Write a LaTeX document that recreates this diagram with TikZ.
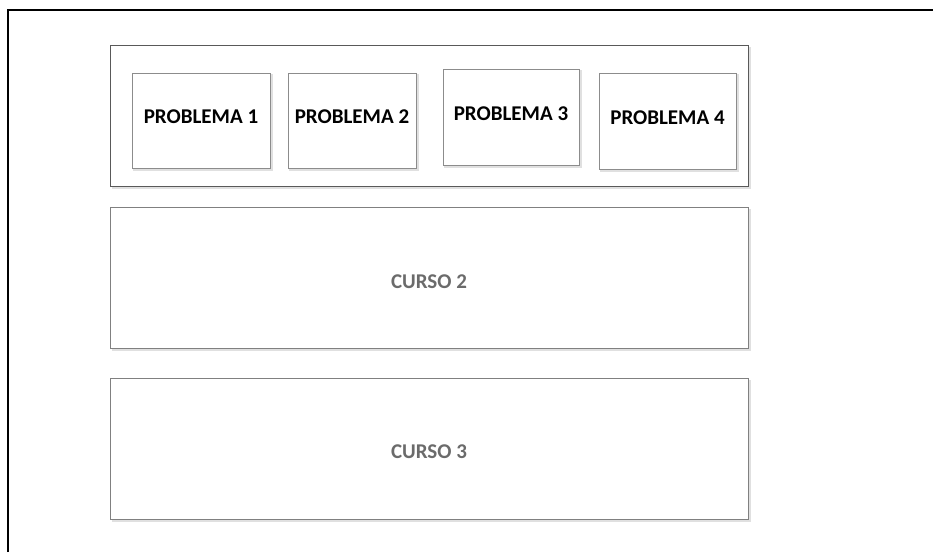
\documentclass[tikz,border=0pt]{standalone}
\usepackage{fontspec}
\setmainfont{Carlito}
\tikzset{
  frameline/.style={line width=2pt, black},
  panel/.style={draw=black!65, line width=1pt},
  probbox/.style={draw=black!45, line width=1pt, fill=white, minimum width=#1, inner sep=0pt},
  probtext/.style={font=\bfseries\fontsize{21}{25}\selectfont, text=black, inner sep=0pt},
  cursotext/.style={font=\bfseries\fontsize{21}{25}\selectfont, text=black!58, inner sep=0pt},
  shade/.style={draw=black!12, line width=1.5pt},
}
\begin{document}
\begin{tikzpicture}[x=1pt, y=-1pt]
  \useasboundingbox (0,0) rectangle (933,552);
  % open page frame: top and left edges only
  \draw[frameline] (8,552) -- (8,10) -- (933,10);

  % panel holding the four problems
  \draw[shade] (112,188) -- (750,188) -- (750,47);
  \draw[panel] (110,45) rectangle (748,186);

  % problem boxes (soft shadows first)
  \foreach \xa/\ya/\xb/\yb in {132/73/270/168, 288/73/416/168, 443/69/579/165, 599/73/736/169}{
    \draw[shade] (\xa+1,\yb+2) -- (\xb+2,\yb+2) -- (\xb+2,\ya+1);
  }
  \node[probbox=138pt, minimum height=95pt] (p1) at (201,120.5) {};
  \node[probbox=128pt, minimum height=95pt] (p2) at (352,120.5) {};
  \node[probbox=136pt, minimum height=96pt] (p3) at (511,117) {};
  \node[probbox=137pt, minimum height=96pt] (p4) at (667.5,121) {};
  \node[probtext] (t1) at ([yshift=4pt]p1) {PROBLEMA 1};
  \node[probtext] (t2) at ([yshift=4pt]p2) {PROBLEMA 2};
  \node[probtext] (t3) at ([yshift=3.5pt]p3) {PROBLEMA 3};
  \node[probtext] (t4) at ([yshift=3.5pt]p4) {PROBLEMA 4};

  % course panels
  \draw[shade] (112,350) -- (750,350) -- (750,209);
  \draw[panel, draw=black!50] (110,207) rectangle (748,348);
  \node[cursotext] (t5) at (429,281.5) {CURSO 2};

  \draw[shade] (112,521) -- (750,521) -- (750,380);
  \draw[panel, draw=black!50] (110,378) rectangle (748,519);
  \node[cursotext] (t6) at (429,452) {CURSO 3};
\end{tikzpicture}
\end{document}
